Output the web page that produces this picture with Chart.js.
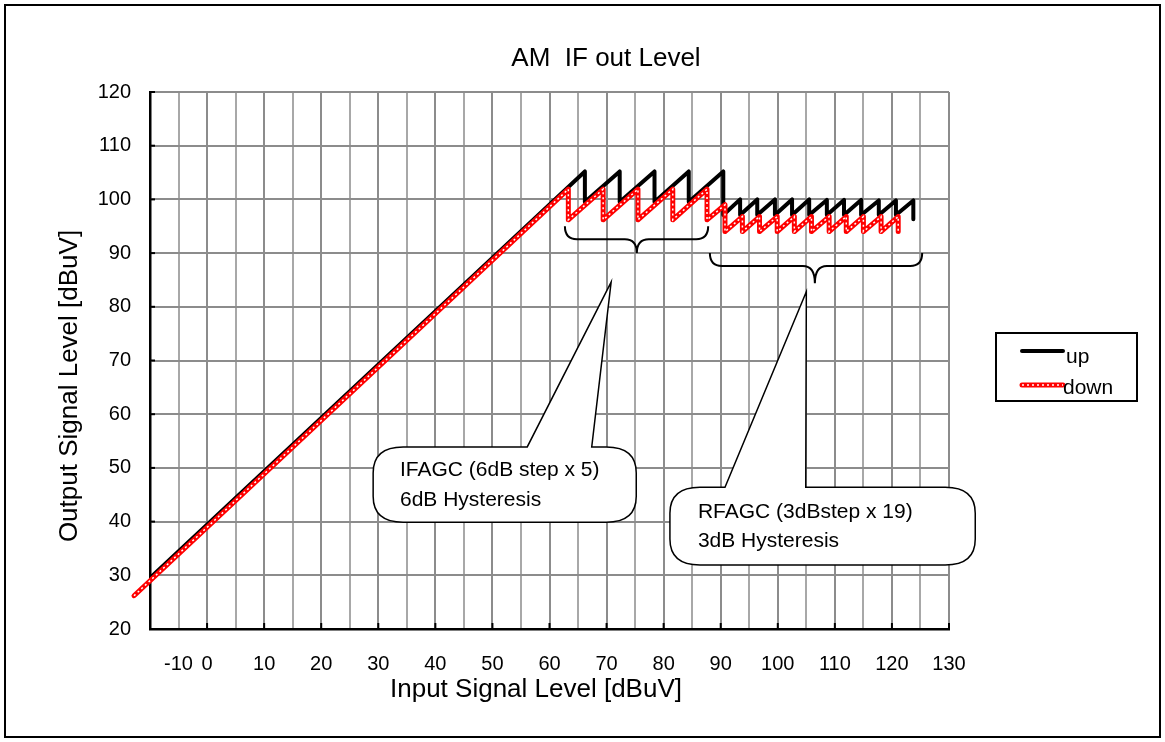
<!DOCTYPE html>
<html>
<head>
<meta charset="utf-8">
<script src="https://cdn.jsdelivr.net/npm/chart.js@4.4.0/dist/chart.umd.min.js"></script>
<style>
  html, body { margin: 0; padding: 0; background: #fff; }
  #wrap { width: 1165px; height: 742px; }
</style>
</head>
<body>
<div id="wrap"><canvas id="agcChart" width="1165" height="742"></canvas></div>
<script>
// values (input dBuV -> output dBuV)
const upX = [-10, 66.2, 66.2, 72.3, 72.3, 78.4, 78.4, 84.4, 84.4, 90.45, 90.45,
  93.4, 93.4, 96.4, 96.4, 99.5, 99.5, 102.5, 102.5, 105.5, 105.5, 108.6, 108.6,
  111.6, 111.6, 114.6, 114.6, 117.7, 117.7, 120.7, 120.7, 123.75, 123.75];
const upY = [29.5, 105.2, 99.5, 105.2, 99.5, 105.2, 99.5, 105.2, 99.5, 105.2, 97.1,
  100.0, 97.1, 100.0, 97.1, 100.0, 97.1, 100.0, 97.1, 100.0, 97.1, 99.9, 97.1,
  99.9, 97.1, 99.9, 97.1, 99.8, 97.1, 99.8, 97.1, 99.8, 96.3];

const downX = [-12.8, 63.3, 63.3, 69.4, 69.4, 75.5, 75.5, 81.6, 81.6, 87.6, 87.6,
  90.75, 90.75, 93.8, 93.8, 96.8, 96.8, 99.9, 99.9, 102.9, 102.9, 105.9, 105.9,
  109.0, 109.0, 112.0, 112.0, 115.0, 115.0, 118.1, 118.1, 121.1, 121.1];
const downY = [26.2, 101.9, 96.2, 101.9, 96.2, 101.9, 96.2, 101.9, 96.2, 101.9, 96.2,
  99.0, 94.0, 96.8, 94.0, 96.8, 94.0, 96.8, 94.0, 96.8, 94.0, 96.8, 94.0,
  96.8, 94.0, 96.8, 94.0, 96.8, 94.0, 96.8, 94.0, 96.8, 94.0];

const xTickLabels = ['-10', '0', '10', '20', '30', '40', '50', '60', '70', '80', '90', '100', '110', '120', '130'];
const yTickLabels = ['20', '30', '40', '50', '60', '70', '80', '90', '100', '110', '120'];

const FONT = "'Liberation Sans', Arial, sans-serif";

// annotation shapes, in data units
const braces = [
  { from: 62.7, to: 87.8, top: 95.0, mid: 92.6, tipX: 75.3, tip: 90.0 },
  { from: 88.1, to: 125.3, top: 90.0, mid: 87.6, tipX: 106.5, tip: 84.4 }
];
const callouts = [
  { left: 29.1, right: 75.2, top: 53.9, bottom: 39.9, baseA: 56.1, baseB: 67.4, tipX: 70.8, tipY: 84.6,
    textX: 33.8, textY: [49.6, 44.0], lines: ['IFAGC (6dB step x 5)', '6dB Hysteresis'] },
  { left: 81.1, right: 134.6, top: 46.4, bottom: 31.9, baseA: 90.75, baseB: 104.9, tipX: 105.0, tipY: 82.8,
    textX: 86.0, textY: [41.8, 36.3], lines: ['RFAGC (3dBstep x 19)', '3dB Hysteresis'] }
];

const toPoints = (xs, ys) => xs.map((x, i) => ({ x: x, y: ys[i] }));

const decorations = {
  id: 'decorations',
  beforeDatasetsDraw(chart) {
    const c = chart.ctx, a = chart.chartArea;
    const xs = chart.scales.x, ys = chart.scales.y;
    c.save();
    c.strokeStyle = '#000';
    c.lineWidth = 2;
    // small inside tick marks
    for (let v = -10; v <= 130; v += 10) {
      const px = xs.getPixelForValue(v);
      c.beginPath(); c.moveTo(px, a.bottom); c.lineTo(px, a.bottom - 6); c.stroke();
    }
    for (let v = 20; v <= 120; v += 10) {
      const py = ys.getPixelForValue(v);
      c.beginPath(); c.moveTo(a.left, py); c.lineTo(a.left + 5, py); c.stroke();
    }
    c.restore();
  },
  afterDatasetsDraw(chart) {
    const c = chart.ctx;
    const X = v => chart.scales.x.getPixelForValue(v);
    const Y = v => chart.scales.y.getPixelForValue(v);
    c.save();
    c.strokeStyle = '#000';
    c.lineWidth = 2;
    braces.forEach(b => {
      const l = X(b.from), r = X(b.to), cx = X(b.tipX);
      const t = Y(b.top), m = Y(b.mid), tip = Y(b.tip), rr = 12;
      c.beginPath();
      c.moveTo(l, t);
      c.quadraticCurveTo(l, m, l + rr, m);
      c.lineTo(cx - rr, m);
      c.quadraticCurveTo(cx, m, cx, tip);
      c.quadraticCurveTo(cx, m, cx + rr, m);
      c.lineTo(r - rr, m);
      c.quadraticCurveTo(r, m, r, t);
      c.stroke();
    });
    c.lineWidth = 1.5;
    callouts.forEach(o => {
      const x1 = X(o.left), x2 = X(o.right), y1 = Y(o.top), y2 = Y(o.bottom);
      const rx = 30, ry = 26;
      c.beginPath();
      c.moveTo(x1 + rx, y1);
      c.lineTo(X(o.baseA), y1);
      c.lineTo(X(o.tipX), Y(o.tipY));
      c.lineTo(X(o.baseB), y1);
      c.lineTo(x2 - rx, y1);
      c.quadraticCurveTo(x2, y1, x2, y1 + ry);
      c.lineTo(x2, y2 - ry);
      c.quadraticCurveTo(x2, y2, x2 - rx, y2);
      c.lineTo(x1 + rx, y2);
      c.quadraticCurveTo(x1, y2, x1, y2 - ry);
      c.lineTo(x1, y1 + ry);
      c.quadraticCurveTo(x1, y1, x1 + rx, y1);
      c.closePath();
      c.fillStyle = '#fff';
      c.fill();
      c.stroke();
      c.fillStyle = '#000';
      c.font = '21px ' + FONT;
      c.textBaseline = 'middle';
      c.textAlign = 'left';
      o.lines.forEach((s, i) => c.fillText(s, X(o.textX), Y(o.textY[i])));
    });
    c.restore();
  },
  afterDraw(chart) {
    const c = chart.ctx;
    c.save();
    c.fillStyle = '#000';
    c.textBaseline = 'alphabetic';
    c.textAlign = 'center';
    c.font = '26px ' + FONT;
    c.fillText('AM  IF out Level', 606, 66);
    c.fillText('Input Signal Level [dBuV]', 536, 697);
    c.save();
    c.translate(77, 386);
    c.rotate(-Math.PI / 2);
    c.fillText('Output Signal Level [dBuV]', 0, 0);
    c.restore();

    // legend
    c.strokeStyle = '#000';
    c.lineWidth = 2;
    c.strokeRect(996, 333, 141, 68);
    c.lineCap = 'round';
    c.lineWidth = 4;
    c.beginPath(); c.moveTo(1022, 351); c.lineTo(1063, 351); c.stroke();
    c.strokeStyle = '#ff0000';
    c.lineWidth = 5;
    c.beginPath(); c.moveTo(1022, 385); c.lineTo(1063, 385); c.stroke();
    c.strokeStyle = '#fff';
    c.lineWidth = 1.5;
    c.lineCap = 'butt';
    c.setLineDash([2, 3]);
    c.beginPath(); c.moveTo(1022, 385); c.lineTo(1063, 385); c.stroke();
    c.setLineDash([]);
    c.font = '21px ' + FONT;
    c.textAlign = 'left';
    c.fillText('up', 1066, 363);
    c.fillText('down', 1063, 394);

    // outer frame
    c.strokeStyle = '#000';
    c.lineWidth = 2;
    c.strokeRect(5, 5, 1155, 732);
    c.restore();
  }
};

const ctx = document.getElementById('agcChart').getContext('2d');

new Chart(ctx, {
  type: 'scatter',
  data: {
    datasets: [
      {
        label: 'down dots',
        data: toPoints(downX, downY),
        showLine: true,
        borderColor: '#ffffff',
        borderWidth: 1.5,
        borderDash: [2, 3],
        pointRadius: 0,
        clip: false,
        order: 0
      },
      {
        label: 'down',
        data: toPoints(downX, downY),
        showLine: true,
        borderColor: '#ff0000',
        borderWidth: 5,
        borderCapStyle: 'round',
        borderJoinStyle: 'round',
        pointRadius: 0,
        clip: false,
        order: 1
      },
      {
        label: 'up',
        data: toPoints(upX, upY),
        showLine: true,
        borderColor: '#000000',
        borderWidth: 4,
        borderJoinStyle: 'round',
        pointRadius: 0,
        order: 2
      }
    ]
  },
  options: {
    responsive: false,
    animation: false,
    layout: { padding: { left: 0, top: 92, right: 216, bottom: 0 } },
    plugins: {
      legend: { display: false },
      title: { display: false },
      tooltip: { enabled: false }
    },
    scales: {
      x: {
        type: 'linear',
        min: -10,
        max: 130,
        afterFit: s => { s.height = 113; },
        grid: {
          color: c => (c.tick && c.tick.value % 10 === 0) ? '#8c8c8c' : '#a8a8a8',
          lineWidth: 2,
          drawTicks: false
        },
        border: { color: '#000', width: 2.5 },
        ticks: {
          stepSize: 5,
          autoSkip: false,
          maxRotation: 0,
          padding: 23,
          color: '#000',
          font: { family: FONT, size: 20 },
          // the first label sits half a division in from the axis, as in the original
          callback: v => {
            if (v === -5) return xTickLabels[0];
            if (v % 10 !== 0 || v === -10) return '';
            return xTickLabels[(v + 10) / 10];
          }
        }
      },
      y: {
        min: 20,
        max: 120,
        afterFit: s => { s.width = 150; },
        grid: { color: '#8c8c8c', lineWidth: 2, drawTicks: false },
        border: { color: '#000', width: 2.5 },
        ticks: {
          stepSize: 10,
          padding: 19,
          color: '#000',
          font: { family: FONT, size: 20 },
          callback: v => yTickLabels[(v - 20) / 10]
        }
      }
    }
  },
  plugins: [decorations]
});
</script>
</body>
</html>
